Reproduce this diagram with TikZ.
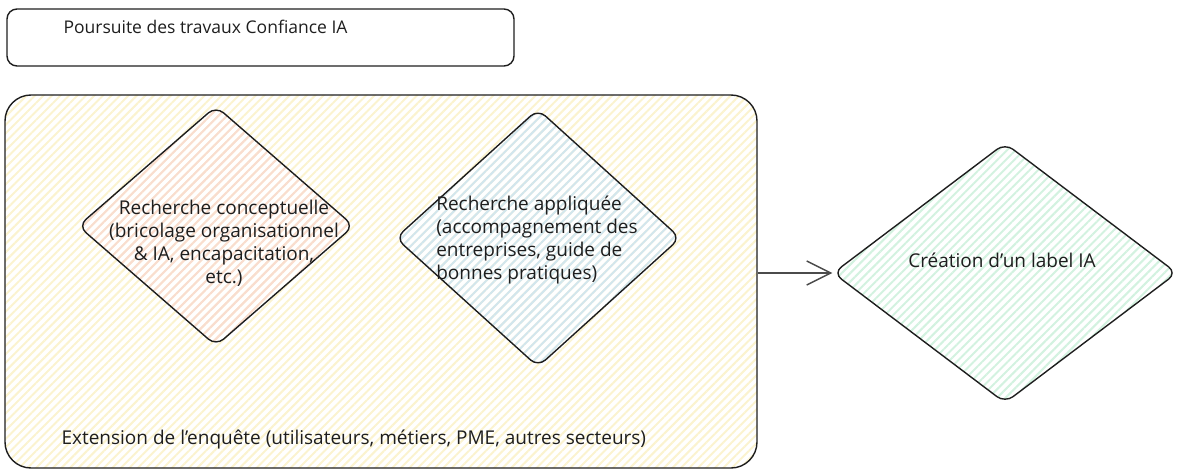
\documentclass[tikz,border=0pt]{standalone}
\usepackage{fontspec}
\setmainfont{Open Sans}
\usepackage{tikz}
\usetikzlibrary{positioning,arrows.meta,shapes.geometric,patterns.meta}

\definecolor{encre}{HTML}{1E1E1E}
\definecolor{jaune}{HTML}{FBF3CF}
\definecolor{rose}{HTML}{F9DDCF}
\definecolor{bleu}{HTML}{D2E6EE}
\definecolor{vert}{HTML}{D3F2E0}

\begin{document}
\begin{tikzpicture}[x=1pt, y=-1pt,
  trait/.style={draw=encre, line width=1.4pt},
  hachure/.style={pattern={Lines[angle=45, distance=6pt, line width=2pt]}, pattern color=#1},
  losange/.style={trait, diamond, rounded corners=10pt, inner sep=0pt},
  texte/.style={text=encre, font=\fontsize{19}{23}\selectfont},
  fleche/.style={draw=encre!80, line width=1.4pt, -{Straight Barb[length=24pt, width=24pt, line width=1.4pt]}}]
\useasboundingbox (0,0) rectangle (1177,470);
% Cadre du haut
\node[trait, rounded corners=10pt, minimum width=507, minimum height=57] (suite) at (260.5,37.5) {};
\node[texte, font=\fontsize{17.5}{23}\selectfont, anchor=west] (suitetxt) at (60,27) {Poursuite des travaux Confiance IA};
% Cadre de l'enquete
\node[trait, hachure=jaune, rounded corners=26pt, minimum width=752, minimum height=373] (enquete) at (381,281.5) {};
\node[texte, anchor=west] (enquetetxt) at (58,440) {Extension de l'enquête (utilisateurs, métiers, PME, autres secteurs)};
% Losanges
\node[losange, hachure=rose, minimum width=276, minimum height=240] (concept) at (216,226) {};
\node[texte, align=center] (concepttxt) at (224,243) {Recherche conceptuelle\\(bricolage organisationnel\\\& IA, encapacitation,\\etc.)};
\node[losange, hachure=bleu, minimum width=285, minimum height=258] (applique) at (538,238) {};
\node[texte, align=left] (appliquetxt) at (537,240) {Recherche appliquée\\(accompagnement des\\entreprises, guide de\\bonnes pratiques)};
\node[losange, hachure=vert, minimum width=344, minimum height=260] (label) at (1005,273) {};
\node[texte] (labeltxt) at (1002,260) {Création d'un label IA};
% Fleche
\draw[fleche] (enquete.east |- label.west) -- (label.west);
\end{tikzpicture}
\end{document}
